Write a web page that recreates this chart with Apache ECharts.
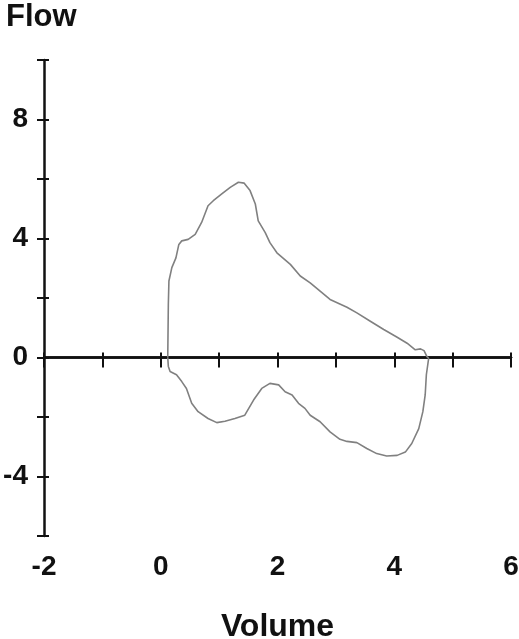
<!DOCTYPE html>
<html>
<head>
<meta charset="utf-8">
<script src="https://cdn.jsdelivr.net/npm/echarts@6/dist/echarts.min.js"></script>
<style>
  html, body { margin: 0; padding: 0; background: #fff; }
  #chart { width: 519px; height: 639px; }
</style>
</head>
<body>
<div id="chart"></div>
<script>
// expiratory limb (above zero)
const expVolume = [0.12, 0.13, 0.14, 0.19, 0.26, 0.31, 0.36, 0.47, 0.59, 0.70, 0.81, 0.90, 1.04, 1.19, 1.33, 1.43, 1.53, 1.62, 1.67, 1.79, 1.87, 1.99, 2.22, 2.39, 2.56, 2.73, 2.90, 3.19, 3.36, 3.59, 3.82, 4.05, 4.22, 4.36, 4.45, 4.51, 4.56, 4.59]
const expFlow = [0.0, 1.78, 2.57, 3.02, 3.35, 3.80, 3.92, 3.97, 4.14, 4.54, 5.10, 5.27, 5.49, 5.72, 5.89, 5.86, 5.61, 5.16, 4.59, 4.20, 3.86, 3.52, 3.13, 2.74, 2.51, 2.23, 1.95, 1.69, 1.50, 1.22, 0.94, 0.68, 0.48, 0.26, 0.29, 0.23, 0.03, -0.02]
// inspiratory limb (below zero)
const inspVolume = [4.59, 4.55, 4.53, 4.49, 4.42, 4.30, 4.19, 4.05, 3.87, 3.70, 3.53, 3.36, 3.19, 3.07, 2.90, 2.73, 2.56, 2.47, 2.36, 2.25, 2.13, 2.02, 1.87, 1.73, 1.59, 1.44, 1.27, 1.10, 0.96, 0.81, 0.64, 0.53, 0.44, 0.36, 0.27, 0.16, 0.13, 0.12]
const inspFlow = [-0.02, -0.58, -1.26, -1.82, -2.39, -2.89, -3.18, -3.29, -3.31, -3.23, -3.06, -2.86, -2.82, -2.75, -2.50, -2.16, -1.94, -1.71, -1.54, -1.26, -1.15, -0.92, -0.87, -1.04, -1.43, -1.94, -2.05, -2.14, -2.19, -2.05, -1.82, -1.54, -1.04, -0.81, -0.58, -0.47, -0.30, 0.0]

const xTicks = { min: -2, max: 6, step: 1 }
const yTicks = { min: -6, max: 10, step: 2 }

const font = 'Liberation Sans, Arial, sans-serif'
const black = '#111'

const zip = (xs, ys) => xs.map((x, i) => [x, ys[i]])

const chart = echarts.init(document.getElementById('chart'))

// all three grids share the exact same box; no auto shrinking for labels
const gridBox = { left: 44, right: 8, top: 60, bottom: 103, outerBoundsMode: 'none', containLabel: false }

// extra grids only carry the cross ticks (ECharts allows one onZero x axis per grid)
const tickY = (gridIndex, inside, length) => ({
  gridIndex,
  type: 'value',
  min: yTicks.min, max: yTicks.max, interval: yTicks.step,
  axisLine: { show: false, onZero: false },
  axisTick: { show: true, inside, length, lineStyle: { color: black, width: 2 } },
  axisLabel: { show: false },
  splitLine: { show: false }
})
const tickX = (gridIndex, inside, length) => ({
  gridIndex,
  type: 'value',
  position: 'bottom',
  min: xTicks.min, max: xTicks.max, interval: xTicks.step,
  axisLine: { onZero: true, lineStyle: { color: black, width: 2.5 } },
  axisTick: { inside, length, lineStyle: { color: black, width: 2 } },
  axisLabel: { show: false },
  splitLine: { show: false }
})

const option = {
  animation: false,
  title: {
    text: 'Flow',
    left: 1,
    top: -3,
    textStyle: { fontFamily: font, fontSize: 31, fontWeight: 'bold', color: black }
  },
  grid: [
    Object.assign({}, gridBox),
    Object.assign({}, gridBox),
    Object.assign({}, gridBox)
  ],
  xAxis: [
    {
      // labels + axis title at the bottom
      gridIndex: 0,
      type: 'value',
      position: 'bottom',
      min: xTicks.min, max: xTicks.max, interval: xTicks.step,
      name: 'Volume',
      nameLocation: 'middle',
      nameGap: 75,
      nameTextStyle: { fontFamily: font, fontSize: 32, fontWeight: 'bold', color: black },
      axisLine: { show: false, onZero: false },
      axisTick: { show: false },
      splitLine: { show: false },
      axisLabel: {
        margin: 17,
        fontFamily: font, fontSize: 28, fontWeight: 'bold', color: black,
        formatter: v => (v % 2 === 0 ? String(v) : '')
      }
    },
    tickX(1, false, 10),
    tickX(2, true, 5)
  ],
  yAxis: [
    {
      gridIndex: 0,
      type: 'value',
      position: 'left',
      min: yTicks.min, max: yTicks.max, interval: yTicks.step,
      axisLine: { show: true, onZero: false, lineStyle: { color: black, width: 2.5 } },
      axisTick: { show: true, length: 7, lineStyle: { color: black, width: 2 } },
      splitLine: { show: false },
      axisLabel: {
        margin: 16,
        fontFamily: font, fontSize: 28, fontWeight: 'bold', color: black,
        formatter: v => (v % 4 === 0 && v !== yTicks.min && v !== yTicks.max ? String(v) : '')
      }
    },
    tickY(1, true, 5),
    tickY(2, true, 5)
  ],
  series: [
    {
      type: 'line',
      xAxisIndex: 0, yAxisIndex: 0,
      data: zip(expVolume, expFlow),
      showSymbol: false,
      lineStyle: { color: '#808080', width: 1.6 }
    },
    {
      type: 'line',
      xAxisIndex: 0, yAxisIndex: 0,
      data: zip(inspVolume, inspFlow),
      showSymbol: false,
      lineStyle: { color: '#808080', width: 1.6 }
    }
  ]
}

chart.setOption(option)
</script>
</body>
</html>
